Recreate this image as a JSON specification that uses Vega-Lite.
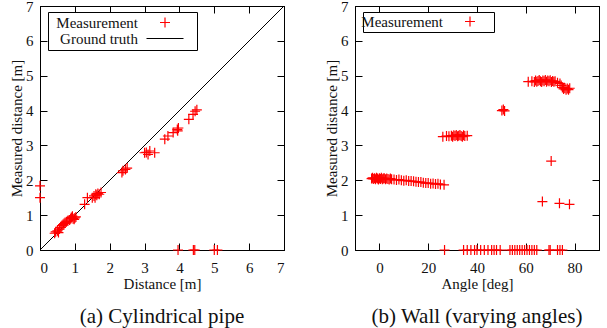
{
  "$schema": "https://vega.github.io/schema/vega-lite/v6.json",
  "padding": {"left": 9, "top": -2, "right": 2, "bottom": 2},
  "spacing": 37,
  "resolve": {"scale": {"color": "independent", "shape": "independent"}, "legend": {"color": "independent", "shape": "independent"}},
  "config": {
    "font": "Liberation Serif",
    "view": {"stroke": "black", "strokeWidth": 1},
    "axis": {"grid": false, "labelFont": "Liberation Serif", "titleFont": "Liberation Serif", "labelFontSize": 15, "titleFontSize": 15, "titleFontWeight": "normal", "labelColor": "#111", "titleColor": "#111", "tickColor": "black", "domainColor": "black", "tickSize": -7},
    "axisX": {"labelPadding": 17, "titlePadding": 1},
    "axisY": {"labelPadding": 14, "titlePadding": 1},
    "legend": {"labelFont": "Liberation Serif", "labelFontSize": 15, "labelColor": "#111", "fillColor": "white", "strokeColor": "black", "cornerRadius": 0},
    "title": {"font": "Liberation Serif", "fontSize": 21, "fontWeight": "normal", "color": "#111"}
  },
  "datasets": {
    "pipe": [
      {"d":0.42,"m":0.48,"s":"Measurement"},{"d":0.45,"m":0.52,"s":"Measurement"},{"d":0.5,"m":0.55,"s":"Measurement"},{"d":0.53,"m":0.5,"s":"Measurement"},{"d":0.56,"m":0.6,"s":"Measurement"},{"d":0.6,"m":0.65,"s":"Measurement"},{"d":0.63,"m":0.7,"s":"Measurement"},{"d":0.66,"m":0.73,"s":"Measurement"},{"d":0.69,"m":0.76,"s":"Measurement"},{"d":0.72,"m":0.79,"s":"Measurement"},{"d":0.76,"m":0.81,"s":"Measurement"},{"d":0.8,"m":0.83,"s":"Measurement"},{"d":0.85,"m":0.86,"s":"Measurement"},{"d":0.88,"m":0.9,"s":"Measurement"},{"d":0.9,"m":0.93,"s":"Measurement"},{"d":0.95,"m":0.9,"s":"Measurement"},{"d":0.98,"m":0.88,"s":"Measurement"},{"d":1.0,"m":0.92,"s":"Measurement"},{"d":1.03,"m":0.95,"s":"Measurement"},{"d":0.93,"m":0.97,"s":"Measurement"},
      {"d":1.28,"m":1.31,"s":"Measurement"},{"d":1.36,"m":1.5,"s":"Measurement"},{"d":1.5,"m":1.5,"s":"Measurement"},{"d":1.55,"m":1.55,"s":"Measurement"},{"d":1.58,"m":1.5,"s":"Measurement"},{"d":1.6,"m":1.6,"s":"Measurement"},{"d":1.63,"m":1.57,"s":"Measurement"},{"d":1.66,"m":1.62,"s":"Measurement"},{"d":1.7,"m":1.6,"s":"Measurement"},{"d":1.75,"m":1.65,"s":"Measurement"},
      {"d":2.35,"m":2.22,"s":"Measurement"},{"d":2.38,"m":2.27,"s":"Measurement"},{"d":2.45,"m":2.31,"s":"Measurement"},{"d":2.5,"m":2.35,"s":"Measurement"},
      {"d":3.0,"m":2.79,"s":"Measurement"},{"d":3.05,"m":2.8,"s":"Measurement"},{"d":3.1,"m":2.74,"s":"Measurement"},{"d":3.15,"m":2.84,"s":"Measurement"},{"d":3.29,"m":2.79,"s":"Measurement"},
      {"d":3.58,"m":3.18,"s":"Measurement"},{"d":3.67,"m":3.27,"s":"Measurement"},{"d":3.82,"m":3.37,"s":"Measurement"},{"d":3.94,"m":3.46,"s":"Measurement"},{"d":3.97,"m":3.5,"s":"Measurement"},{"d":3.95,"m":3.42,"s":"Measurement"},
      {"d":4.27,"m":3.75,"s":"Measurement"},{"d":4.39,"m":3.89,"s":"Measurement"},{"d":4.45,"m":3.98,"s":"Measurement"},{"d":4.5,"m":4.02,"s":"Measurement"},
      {"d":0,"m":1.84,"s":"Measurement"},{"d":0,"m":1.5,"s":"Measurement"},
      {"d":3.96,"m":0,"s":"Measurement"},{"d":4.4,"m":0,"s":"Measurement"},{"d":4.44,"m":0,"s":"Measurement"},{"d":5.0,"m":0,"s":"Measurement"},{"d":5.09,"m":0,"s":"Measurement"}
    ],
    "truth": [{"d":0,"m":0},{"d":7,"m":7}],
    "wall": [
      {"a":-3.2,"m":2.05},{"a":-2.8,"m":2.07},{"a":-2.5,"m":2.04},{"a":-2.0,"m":2.06},{"a":-1.6,"m":2.03},{"a":-1.2,"m":2.07},{"a":-0.8,"m":2.05},{"a":-0.4,"m":2.02},{"a":0,"m":2.06},{"a":0.4,"m":2.04},{"a":0.8,"m":2.07},{"a":1.2,"m":2.03},{"a":1.6,"m":2.05},{"a":2.0,"m":2.06},{"a":2.5,"m":2.03},{"a":3.0,"m":2.05},{"a":3.5,"m":2.04},{"a":4.0,"m":2.02},{"a":4.5,"m":2.05},{"a":5.0,"m":2.03},{"a":6.0,"m":2.02},{"a":7.0,"m":2.01},{"a":8.0,"m":2.02},{"a":9.0,"m":2.0},{"a":10.0,"m":1.99},{"a":11.0,"m":2.0},{"a":12.0,"m":1.98},{"a":13.0,"m":1.98},{"a":14.0,"m":1.97},{"a":15.0,"m":1.96},{"a":16.0,"m":1.95},{"a":17.0,"m":1.95},{"a":18.0,"m":1.93},{"a":19.0,"m":1.92},{"a":20.0,"m":1.92},{"a":21.0,"m":1.9},{"a":22.0,"m":1.91},{"a":23.0,"m":1.89},{"a":24.0,"m":1.9},{"a":25.0,"m":1.88},{"a":26.5,"m":1.87},
      {"a":26.0,"m":3.25},{"a":27.5,"m":3.27},{"a":28.5,"m":3.26},{"a":29.5,"m":3.28},{"a":30.0,"m":3.25},{"a":30.5,"m":3.29},{"a":31.0,"m":3.27},{"a":31.5,"m":3.3},{"a":32.0,"m":3.26},{"a":32.5,"m":3.28},{"a":33.0,"m":3.3},{"a":33.5,"m":3.27},{"a":34.0,"m":3.25},{"a":34.5,"m":3.29},{"a":35.0,"m":3.27},{"a":36.0,"m":3.28},
      {"a":50.2,"m":4.0},{"a":50.8,"m":4.03},{"a":51.3,"m":3.99},
      {"a":61.0,"m":4.83},{"a":62.5,"m":4.84},{"a":63.5,"m":4.82},{"a":64.0,"m":4.86},{"a":64.5,"m":4.83},{"a":65.0,"m":4.85},{"a":65.5,"m":4.88},{"a":66.0,"m":4.84},{"a":66.5,"m":4.82},{"a":67.0,"m":4.86},{"a":67.5,"m":4.84},{"a":68.0,"m":4.88},{"a":68.5,"m":4.83},{"a":69.0,"m":4.86},{"a":69.5,"m":4.84},{"a":70.0,"m":4.87},{"a":70.5,"m":4.82},{"a":71.0,"m":4.85},{"a":71.5,"m":4.83},{"a":72.0,"m":4.84},{"a":73.0,"m":4.8},{"a":74.0,"m":4.78},
      {"a":74.5,"m":4.72},{"a":75.0,"m":4.66},{"a":75.5,"m":4.62},{"a":76.0,"m":4.65},{"a":76.5,"m":4.6},{"a":77.0,"m":4.63},{"a":77.5,"m":4.6},{"a":78.0,"m":4.64},
      {"a":70.4,"m":2.55},{"a":66.8,"m":1.39},{"a":73.8,"m":1.34},{"a":77.9,"m":1.31},
      {"a":26.7,"m":0},{"a":34.5,"m":0},{"a":36.0,"m":0},{"a":37.5,"m":0},{"a":39.0,"m":0},{"a":40.0,"m":0},{"a":41.5,"m":0},{"a":43.0,"m":0},{"a":44.5,"m":0},{"a":46.0,"m":0},{"a":47.0,"m":0},{"a":48.0,"m":0},{"a":49.5,"m":0},{"a":53.5,"m":0},{"a":54.5,"m":0},{"a":55.5,"m":0},{"a":56.5,"m":0},{"a":57.5,"m":0},{"a":58.5,"m":0},{"a":59.5,"m":0},{"a":60.5,"m":0},{"a":61.5,"m":0},{"a":62.5,"m":0},{"a":63.5,"m":0},{"a":64.5,"m":0},{"a":69.5,"m":0},{"a":70.0,"m":0},{"a":73.0,"m":0},{"a":74.0,"m":0},{"a":75.0,"m":0}
    ]
  },
  "hconcat": [
    {
      "title": {"text": "(a) Cylindrical pipe", "orient": "bottom", "offset": 15},
      "width": 244,
      "height": 244,
      "resolve": {"axis": {"x": "independent", "y": "independent"}},
      "layer": [
        {
          "data": {"name": "truth"},
          "mark": {"type": "line", "color": "black", "strokeWidth": 1},
          "encoding": {
            "x": {"field": "d", "type": "quantitative", "scale": {"domain": [0, 7], "nice": false}, "axis": {"orient": "top", "labels": false, "title": null, "values": [0,1,2,3,4,5,6,7]}},
            "y": {"field": "m", "type": "quantitative", "scale": {"domain": [0, 7], "nice": false}, "axis": {"orient": "right", "labels": false, "title": null, "values": [0,1,2,3,4,5,6,7]}}
          }
        },
        {
          "data": {"name": "pipe"},
          "mark": {"type": "point", "filled": false, "strokeWidth": 1.2, "opacity": 1, "size": 100},
          "encoding": {
            "x": {"field": "d", "type": "quantitative", "scale": {"domain": [0, 7], "nice": false}, "axis": {"orient": "bottom", "title": "Distance [m]", "values": [0,1,2,3,4,5,6,7]}},
            "y": {"field": "m", "type": "quantitative", "scale": {"domain": [0, 7], "nice": false}, "axis": {"orient": "left", "title": "Measured distance [m]", "values": [0,1,2,3,4,5,6,7]}},
            "color": {"field": "s", "type": "nominal", "scale": {"domain": ["Measurement", "Ground truth"], "range": ["#ff0000", "#000000"]}, "legend": {"title": null, "orient": "none", "legendX": 8, "legendY": 6, "labelAlign": "right", "labelOffset": -34.5, "symbolOffset": 106.5, "rowPadding": -2, "padding": 3, "symbolStrokeWidth": 1.2}},
            "shape": {"field": "s", "type": "nominal", "scale": {"domain": ["Measurement", "Ground truth"], "range": ["M-1,0H1M0,-1V1", "M-3.7,0H3.7M5.2,0"]}, "legend": {"title": null, "orient": "none", "legendX": 8, "legendY": 6, "labelAlign": "right", "labelOffset": -34.5, "symbolOffset": 106.5, "rowPadding": -2, "padding": 3, "symbolStrokeWidth": 1.2}}
          }
        }
      ]
    },
    {
      "title": {"text": "(b) Wall (varying angles)", "orient": "bottom", "offset": 15},
      "width": 244,
      "height": 244,
      "data": {"name": "wall"},
      "resolve": {"axis": {"x": "independent", "y": "independent"}},
      "layer": [
        {
          "mark": {"type": "point", "opacity": 0},
          "encoding": {
            "x": {"field": "a", "type": "quantitative", "scale": {"domain": [-10, 90], "nice": false}, "axis": {"orient": "top", "labels": false, "title": null, "values": [0,20,40,60,80]}},
            "y": {"field": "m", "type": "quantitative", "scale": {"domain": [0, 7], "nice": false}, "axis": {"orient": "right", "labels": false, "title": null, "values": [0,1,2,3,4,5,6,7]}}
          }
        },
        {
          "mark": {"type": "point", "filled": false, "strokeWidth": 1.2, "opacity": 1, "size": 100, "shape": "M-1,0H1M0,-1V1"},
          "encoding": {
            "x": {"field": "a", "type": "quantitative", "scale": {"domain": [-10, 90], "nice": false}, "axis": {"orient": "bottom", "title": "Angle [deg]", "values": [0,20,40,60,80]}},
            "y": {"field": "m", "type": "quantitative", "scale": {"domain": [0, 7], "nice": false}, "axis": {"orient": "left", "title": "Measured distance [m]", "values": [0,1,2,3,4,5,6,7]}},
            "color": {"datum": "Measurement", "type": "nominal", "scale": {"domain": ["Measurement"], "range": ["#ff0000"]}, "legend": {"title": null, "orient": "none", "legendX": 8, "legendY": 6, "labelAlign": "right", "labelOffset": -34.5, "symbolOffset": 97.5, "padding": 2, "symbolStrokeWidth": 1.2, "symbolType": "M-1,0H1M0,-1V1M3.8,0"}}
          }
        }
      ]
    }
  ]
}
